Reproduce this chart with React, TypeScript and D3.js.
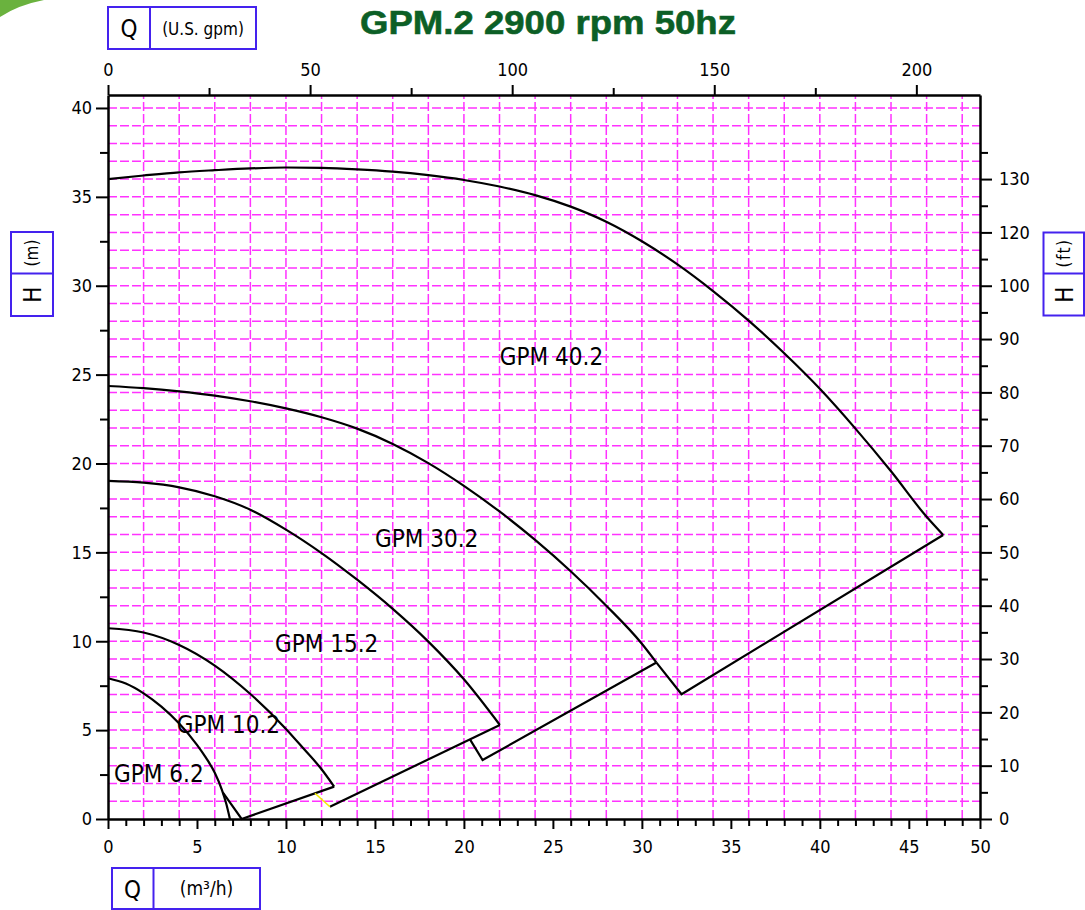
import React, { useEffect, useRef } from 'react';
import * as d3 from 'd3';

// head curves: [Q m³/h, H m]
const curve402 = [[0, 36.0], [2, 36.2], [4, 36.38], [6, 36.5], [8, 36.6], [10, 36.65], [12, 36.63], [14, 36.55], [16, 36.42], [18, 36.22], [20, 35.95], [22, 35.58], [24, 35.1], [26, 34.45], [28, 33.6], [30, 32.5], [32, 31.2], [34, 29.7], [36, 28.04], [38, 26.2], [40, 24.2], [42, 21.96], [44, 19.56], [46, 17.0], [46.93, 15.98]];
const curve302 = [[0, 24.36], [2, 24.24], [4, 24.06], [6, 23.82], [8, 23.5], [10, 23.1], [12, 22.6], [14, 21.96], [16, 21.1], [18, 20.02], [20, 18.74], [22, 17.3], [24, 15.7], [26, 13.94], [28, 12.0], [30, 9.86], [30.82, 8.8]];
const curve152 = [[0, 19.02], [2, 18.92], [4, 18.66], [6, 18.16], [8, 17.4], [10, 16.28], [12, 14.96], [14, 13.46], [16, 11.82], [18, 9.98], [20, 7.86], [22.02, 5.29]];
const curve102 = [[0, 10.73], [2, 10.49], [4, 9.79], [6, 8.63], [8, 7.03], [10, 5.07], [11, 3.95], [12, 2.8], [12.71, 1.82]];
const curve62 = [[0, 7.92], [1, 7.62], [2, 7.07], [3, 6.32], [4, 5.37], [5, 4.17], [5.5, 3.45], [6, 2.6], [6.4, 1.64], [6.65, 0.84], [6.85, 0]];

// end-of-curve limit lines
const hook402 = [[46.93, 15.98], [32.23, 7.02], [30.82, 8.8]];
const hook302 = [[30.82, 8.8], [21.05, 3.32], [20.34, 4.48]];
const hook152 = [[22.02, 5.29], [12.47, 0.69]];
const hook152link = [[12.47, 0.69], [11.63, 1.45]]; // drawn yellow on the sheet
const hook102 = [[12.71, 1.82], [7.51, 0.0], [6.45, 1.5]];

const labels = [
  { text: 'GPM 40.2', q: 22.02, h: 25.54 },
  { text: 'GPM 30.2', q: 15.0, h: 15.32 },
  { text: 'GPM 15.2', q: 9.38, h: 9.41 },
  { text: 'GPM 10.2', q: 3.86, h: 4.82 },
  { text: 'GPM 6.2', q: 0.34, h: 2.08 },
];

const qTicks = d3.range(0, 50);          // 0..49, right frame labelled "50" on the sheet
const hTicks = d3.range(0, 40.1, 2.5);
const ftTicks = d3.range(0, 126, 5);
const gpmTicks = d3.range(0, 216, 25);
const qLabel = (v: number) => (v === 49 ? '50' : v % 5 === 0 ? String(v) : '');
const ftLabel = (v: number) => (v % 10 !== 0 ? '' : v === 110 ? '120' : v === 120 ? '130' : String(v));

const W = 1085, H = 910;
const margin = { top: 95, right: 105, bottom: 91, left: 108 };
const qMax = 49;
const hMax = 40.73;
const gpmPerM3h = 4.403;
const mPerFt = 0.3;
const FONT = '"DejaVu Sans Condensed", "DejaVu Sans", sans-serif';
const BLUE = '#4422ee';

function App() {
  const ref = useRef<SVGSVGElement>(null);

  useEffect(() => {
    const svg = d3.select(ref.current);
    svg.selectAll('*').remove();

    const x = d3.scaleLinear().domain([0, qMax]).range([margin.left, W - margin.right]);
    const y = d3.scaleLinear().domain([0, hMax]).range([H - margin.bottom, margin.top]);
    const xGpm = d3.scaleLinear().domain([0, qMax * gpmPerM3h]).range(x.range());
    const yFt = d3.scaleLinear().domain([0, hMax / mPerFt]).range(y.range());

    svg.append('path').attr('d', 'M0,0 L44,0 Q18,5 0,17 Z').attr('fill', '#6ab23e');

    // grid
    const grid = svg.append('g').attr('stroke', '#ff33ff').attr('stroke-width', 1.5).attr('stroke-dasharray', '9,3');
    grid.selectAll('.gv').data(d3.range(2, qMax, 2)).join('line').attr('class', 'gv')
      .attr('x1', d => x(d)).attr('x2', d => x(d)).attr('y1', y(0)).attr('y2', y(hMax));
    grid.selectAll('.gh').data(d3.range(1, 41)).join('line').attr('class', 'gh')
      .attr('y1', d => y(d)).attr('y2', d => y(d)).attr('x1', x(0)).attr('x2', x(qMax));

    // curves
    const smooth = d3.line<number[]>().x(d => x(d[0])).y(d => y(d[1])).curve(d3.curveMonotoneX);
    const straight = d3.line<number[]>().x(d => x(d[0])).y(d => y(d[1]));
    const curves = svg.append('g').attr('fill', 'none').attr('stroke', '#000').attr('stroke-width', 2.2);
    [curve402, curve302, curve152, curve102, curve62].forEach(c => curves.append('path').attr('d', smooth(c)));
    [hook402, hook302, hook152, hook102].forEach(c => curves.append('path').attr('d', straight(c)));
    svg.append('path').attr('d', straight(hook152link)).attr('fill', 'none').attr('stroke', '#f4f000').attr('stroke-width', 1.6);

    const style = (g: any) => {
      g.attr('font-family', FONT).attr('font-size', 18);
      g.selectAll('line').attr('stroke-width', 2);
      g.select('.domain').attr('stroke-width', 2.5);
    };

    svg.append('g').attr('transform', `translate(0,${y(0)})`)
      .call(d3.axisBottom(x).tickValues(qTicks).tickSize(7).tickPadding(14).tickSizeOuter(0).tickFormat(d => qLabel(+d)))
      .call(style)
      .call(g => g.selectAll('.tick line').attr('y2', (d: any) => (d % 5 === 0 || d === 49 ? 10 : 7)));

    svg.append('g').attr('transform', `translate(${x(0)},0)`)
      .call(d3.axisLeft(y).tickValues(hTicks).tickSize(8).tickPadding(8).tickSizeOuter(0).tickFormat(d => (+d % 5 === 0 ? String(d) : '')))
      .call(style)
      .call(g => g.selectAll('.tick line').attr('x2', (d: any) => (d % 5 === 0 ? -12 : -8)));

    svg.append('g').attr('transform', `translate(${x(qMax)},0)`)
      .call(d3.axisRight(yFt).tickValues(ftTicks).tickSize(8).tickPadding(11).tickSizeOuter(0).tickFormat(d => ftLabel(+d)))
      .call(style)
      .call(g => g.selectAll('.tick line').attr('x2', (d: any) => (d % 10 === 0 ? 12 : 8)));

    svg.append('g').attr('transform', `translate(0,${y(hMax)})`)
      .call(d3.axisTop(xGpm).tickValues(gpmTicks).tickSize(7).tickPadding(12).tickSizeOuter(0).tickFormat(d => (+d % 50 === 0 ? String(d) : '')))
      .call(style)
      .call(g => g.selectAll('.tick line').attr('y2', (d: any) => (d % 50 === 0 ? -10 : -7)));

    // curve names
    svg.append('g').attr('font-family', FONT).attr('font-size', 24)
      .selectAll('text').data(labels).join('text')
      .attr('x', d => x(d.q)).attr('y', d => y(d.h)).text(d => d.text);

    // title
    svg.append('text').attr('x', 548).attr('y', 34).attr('text-anchor', 'middle')
      .attr('font-family', '"Liberation Sans", Arial, sans-serif').attr('font-weight', 'bold').attr('font-size', 34)
      .attr('fill', '#0c5f26').attr('stroke', '#0c5f26').attr('stroke-width', 0.6)
      .attr('textLength', 376).attr('lengthAdjust', 'spacingAndGlyphs')
      .text('GPM.2 2900 rpm 50hz');

    // unit boxes
    const boxes = svg.append('g').attr('font-family', FONT);
    const rect = (x0: number, y0: number, w: number, h: number) =>
      boxes.append('rect').attr('x', x0).attr('y', y0).attr('width', w).attr('height', h)
        .attr('fill', 'none').attr('stroke', BLUE).attr('stroke-width', 2);
    const seg = (x1: number, y1: number, x2: number, y2: number) =>
      boxes.append('line').attr('x1', x1).attr('y1', y1).attr('x2', x2).attr('y2', y2).attr('stroke', BLUE).attr('stroke-width', 2);
    const txt = (t: string, cx: number, cy: number, size: number, rot = false, spacing = 0) =>
      boxes.append('text').attr('transform', `translate(${cx},${cy})${rot ? ' rotate(-90)' : ''}`)
        .attr('text-anchor', 'middle').attr('dy', '0.36em').attr('font-size', size)
        .attr('letter-spacing', spacing).text(t);

    rect(108, 7, 148, 42); seg(150, 7, 150, 49);
    txt('Q', 129, 28, 24); txt('(U.S. gpm)', 203, 29, 17);

    rect(112, 868, 148, 41); seg(153.5, 868, 153.5, 909);
    txt('Q', 132.5, 889, 24); txt('(m³/h)', 206.5, 888, 19);

    rect(11, 232, 42, 84); seg(11, 273.5, 53, 273.5);
    txt('(m)', 32, 253, 17, true); txt('H', 32, 294.5, 24, true);

    rect(1043.5, 232.5, 40.5, 83); seg(1043.5, 273.5, 1084, 273.5);
    txt('(ft)', 1064, 253, 17, true, 1.5); txt('H', 1064, 294.5, 24, true);
  }, []);

  return (
    <svg ref={ref} width={W} height={H}
      style={{ position: 'absolute', left: 0, top: 0, background: '#fff', display: 'block' }} />
  );
}

export default App;
